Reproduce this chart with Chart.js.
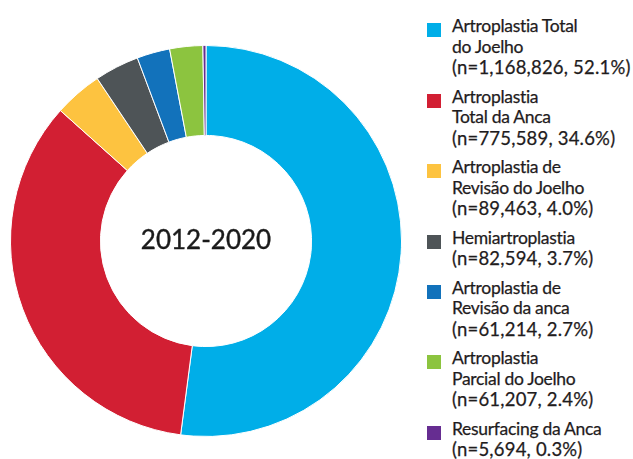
<!DOCTYPE html>
<html>
<head>
<meta charset="utf-8">
<script src="https://cdn.jsdelivr.net/npm/chart.js@4.4.0/dist/chart.umd.min.js"></script>
<style>
  body { margin: 0; background: #fff; width: 633px; height: 459px; overflow: hidden; position: relative; font-family: Lato, "Open Sans", sans-serif; color: #1f1c1d; }
  #wrap { position: absolute; left: 0; top: 0; width: 412px; height: 459px; }
  #legend { position: absolute; left: 427px; top: 16px; }
  .item { position: relative; padding-left: 25px; margin-bottom: 9px; font-size: 17.5px; line-height: 20.5px; letter-spacing: -0.3px; -webkit-text-stroke: 0.25px #1f1c1d; }
  .item .num { display: block; height: 20.5px; font-size: 18.5px; line-height: 20.5px; letter-spacing: 0.2px; white-space: nowrap; }
  .item .box { position: absolute; left: 0; top: 7px; width: 14px; height: 14px; }
</style>
</head>
<body>
<div id="wrap"><canvas id="donut"></canvas></div>
<div id="legend"></div>
<script>
// procedure types, in clockwise order from the top
const labels = [
  ['Artroplastia Total', 'do Joelho'],
  ['Artroplastia', 'Total da Anca'],
  ['Artroplastia de', 'Revisão do Joelho'],
  ['Hemiartroplastia'],
  ['Artroplastia de', 'Revisão da anca'],
  ['Artroplastia', 'Parcial do Joelho'],
  ['Resurfacing da Anca']
];
const counts = [1168826, 775589, 89463, 82594, 61214, 61207, 5694];
const countText = ['1,168,826', '775,589', '89,463', '82,594', '61,214', '61,207', '5,694'];
const percentText = ['52.1%', '34.6%', '4.0%', '3.7%', '2.7%', '2.4%', '0.3%'];
const colors = ['#00aee8', '#d21f33', '#fdc340', '#4e5457', '#1272bb', '#8cc43f', '#662d91'];
const periodLabel = '2012-2020';

// legend on the right, one block per slice
const legend = document.getElementById('legend');
labels.forEach(function (lines, i) {
  const div = document.createElement('div');
  div.className = 'item';
  div.innerHTML = '<span class="box" style="background:' + colors[i] + '"></span>' +
    lines.join('<br>') + '<span class="num">(n=' + countText[i] + ', ' + percentText[i] + ')</span>';
  legend.appendChild(div);
});

// writes the period in the hole of the doughnut
const centerText = {
  id: 'centerText',
  afterDraw(chart) {
    const ctx = chart.ctx;
    const a = chart.chartArea;
    ctx.save();
    ctx.fillStyle = '#1a1a1a';
    ctx.strokeStyle = '#1a1a1a';
    ctx.lineWidth = 0.4;
    ctx.font = '26px Lato, "Open Sans", sans-serif';
    ctx.textAlign = 'center';
    ctx.textBaseline = 'middle';
    const x = (a.left + a.right) / 2, y = (a.top + a.bottom) / 2;
    ctx.fillText(periodLabel, x, y);
    ctx.strokeText(periodLabel, x, y);
    ctx.restore();
  }
};

new Chart(document.getElementById('donut'), {
  type: 'doughnut',
  data: {
    labels: labels.map(function (l) { return l.join(' '); }),
    datasets: [{
      data: counts,
      backgroundColor: colors,
      borderColor: '#ffffff',
      borderWidth: 1
    }]
  },
  options: {
    responsive: true,
    maintainAspectRatio: false,
    animation: false,
    cutout: '54%',
    layout: { padding: { left: 10, right: 10, top: 45, bottom: 22 } },
    plugins: {
      legend: { display: false },
      tooltip: { enabled: false }
    }
  },
  plugins: [centerText]
});
</script>
</body>
</html>
